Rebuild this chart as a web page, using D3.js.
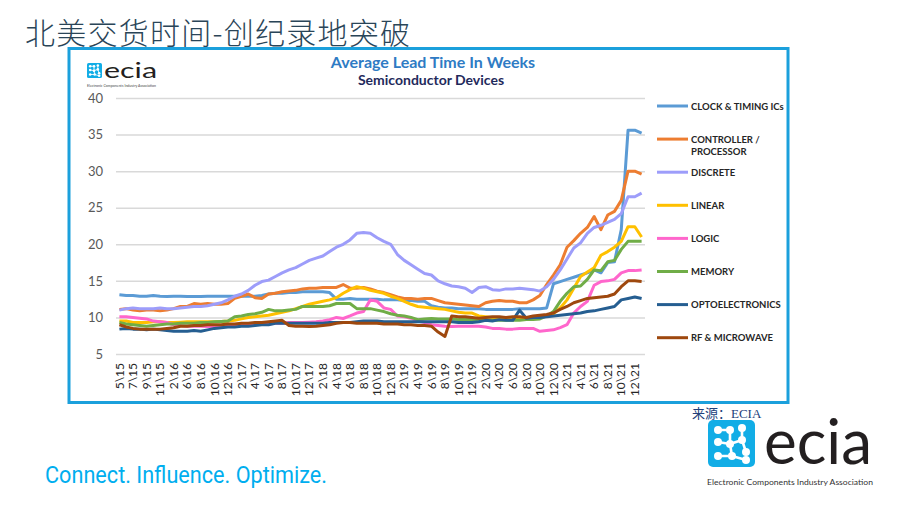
<!DOCTYPE html>
<html>
<head>
<meta charset="utf-8">
<script src="https://cdn.jsdelivr.net/npm/d3@7"></script>
<style>
  body { margin: 0; background: #fff; }
  svg { display: block; }
</style>
</head>
<body>
<div id="chart"></div>
<script>
// categories (month\year), one label shown every 2nd month
const months = ["5\\15","6\\15","7\\15","8\\15","9\\15","10\\15","11\\15","12\\15","2\\16","4\\16",
  "6\\16","7\\16","8\\16","9\\16","10\\16","11\\16","12\\16","1\\17","2\\17","3\\17",
  "4\\17","5\\17","6\\17","7\\17","8\\17","9\\17","10\\17","11\\17","12\\17","1\\18",
  "2\\18","3\\18","4\\18","5\\18","6\\18","7\\18","8\\18","9\\18","10\\18","11\\18",
  "12\\18","1\\19","2\\19","3\\19","4\\19","5\\19","6\\19","7\\19","8\\19","9\\19",
  "10\\19","11\\19","12\\19","1\\20","2\\20","3\\20","4\\20","5\\20","6\\20","7\\20",
  "8\\20","9\\20","10\\20","11\\20","12\\20","1\\21","2\\21","3\\21","4\\21","5\\21",
  "6\\21","7\\21","8\\21","9\\21","10\\21","11\\21","12\\21","1\\22"];

const clockTiming = [13.1,13.0,13.0,12.9,12.9,13.0,12.9,12.85,12.9,12.9,
  12.85,12.85,12.85,12.9,12.9,12.9,12.9,12.9,12.9,12.9,
  12.9,13.0,13.2,13.3,13.3,13.4,13.4,13.5,13.5,13.5,
  13.5,13.4,12.5,12.5,12.6,12.5,12.5,12.5,12.5,12.4,
  12.4,12.4,12.3,12.3,12.2,12.2,11.6,11.4,11.3,11.3,
  11.2,11.2,11.2,11.2,11.1,11.1,11.1,11.1,11.1,11.2,
  11.2,11.2,11.2,11.3,14.6,14.9,15.2,15.5,15.8,16.1,
  16.5,16.1,17.5,17.6,22.0,35.6,35.6,35.2];

const controller = [11.1,11.2,11.0,10.9,11.0,11.0,10.9,11.0,11.2,11.5,
  11.5,11.9,11.8,11.9,11.8,11.8,11.9,12.6,12.9,13.2,
  12.7,12.6,13.2,13.3,13.5,13.6,13.7,13.9,14.0,14.0,
  14.1,14.1,14.1,14.5,14.0,14.0,14.1,13.9,13.6,13.4,
  13.1,12.8,12.6,12.6,12.5,12.6,12.6,12.3,12.0,11.9,
  11.8,11.7,11.6,11.5,12.0,12.2,12.3,12.2,12.2,12.0,
  12.0,12.4,13.0,14.5,15.8,17.2,19.6,20.5,21.5,22.3,
  23.8,22.0,24.0,24.5,26.0,30.0,30.0,29.6];

const discrete = [11.0,11.2,11.3,11.2,11.2,11.2,11.3,11.2,11.2,11.3,
  11.4,11.5,11.5,11.6,11.8,12.0,12.4,12.9,13.2,13.7,
  14.4,14.9,15.1,15.6,16.1,16.5,16.8,17.3,17.8,18.1,
  18.4,19.0,19.6,20.0,20.6,21.5,21.6,21.5,20.9,20.4,
  20.0,18.6,17.8,17.2,16.6,16.0,15.8,15.0,14.6,14.3,
  14.2,14.0,13.4,14.1,14.2,13.8,13.7,13.9,13.9,14.0,
  13.9,13.8,13.6,14.2,15.2,16.5,18.0,19.5,20.2,21.5,
  22.3,22.6,23.0,23.4,24.2,26.5,26.5,27.0];

const linear = [9.5,9.5,9.3,9.3,9.3,9.4,9.4,9.3,9.3,9.35,
  9.4,9.4,9.4,9.4,9.4,9.45,9.5,9.6,9.8,10.0,
  10.1,10.2,10.3,10.5,10.7,10.9,11.2,11.5,11.8,12.0,
  12.2,12.4,12.7,13.3,13.8,14.2,14.0,13.7,13.5,13.3,
  12.9,12.6,12.2,11.8,11.5,11.4,11.3,11.2,11.1,10.9,
  10.7,10.6,10.6,10.2,10.1,10.0,10.0,9.9,9.9,9.8,
  9.9,9.9,10.0,10.2,10.5,11.3,12.4,14.0,15.6,16.2,
  16.8,18.5,19.0,19.6,20.4,22.4,22.4,21.0];

const logic = [10.1,10.1,10.0,9.9,9.8,9.5,9.4,9.3,9.0,8.9,
  8.8,8.8,8.8,8.75,8.75,8.8,8.8,8.9,8.9,9.0,
  9.0,9.1,9.1,9.2,9.2,9.3,9.3,9.3,9.35,9.4,
  9.5,9.7,10.0,9.85,10.2,10.6,10.8,12.4,12.2,11.3,
  11.1,10.2,10.1,9.9,9.5,9.3,9.0,8.9,8.8,8.75,
  8.8,8.8,8.8,8.8,8.7,8.5,8.5,8.4,8.4,8.5,
  8.5,8.5,8.1,8.2,8.3,8.6,9.0,10.6,11.5,12.2,
  14.4,14.9,15.0,15.2,16.1,16.4,16.4,16.5];

const memory = [9.3,9.1,9.0,8.9,8.8,8.9,9.0,9.1,9.1,9.2,
  9.2,9.2,9.3,9.3,9.4,9.45,9.5,10.1,10.2,10.4,
  10.5,10.7,11.1,10.9,10.9,11.0,11.1,11.5,11.5,11.5,
  11.5,11.6,11.9,11.9,11.9,11.2,11.2,11.2,11.0,10.8,
  10.5,10.3,10.2,10.0,9.7,9.8,9.85,9.8,9.8,9.8,
  9.7,9.7,9.7,9.7,9.7,9.6,9.6,9.6,9.6,9.6,
  9.7,9.7,9.8,10.2,10.8,12.2,13.3,14.2,14.3,15.2,
  16.5,16.4,17.6,17.8,19.3,20.4,20.4,20.4];

const opto = [8.4,8.5,8.4,8.4,8.3,8.4,8.3,8.2,8.1,8.1,
  8.1,8.2,8.1,8.3,8.5,8.6,8.7,8.7,8.8,8.8,
  8.9,9.0,9.0,9.2,9.2,9.2,9.2,9.2,9.2,9.2,
  9.2,9.3,9.3,9.3,9.3,9.4,9.5,9.5,9.5,9.4,
  9.4,9.4,9.4,9.4,9.4,9.4,9.4,9.4,9.4,9.4,
  9.3,9.3,9.3,9.4,9.6,9.5,9.7,9.6,9.6,11.0,
  9.9,10.0,10.0,10.1,10.2,10.3,10.4,10.5,10.6,10.8,
  10.9,11.1,11.3,11.5,12.4,12.6,12.8,12.6];

const rfMicrowave = [9.0,8.7,8.5,8.4,8.4,8.4,8.4,8.5,8.6,8.8,
  8.8,8.9,8.9,9.0,9.0,9.0,9.1,9.1,9.2,9.2,
  9.3,9.3,9.4,9.5,9.6,8.9,8.8,8.8,8.75,8.8,
  8.9,9.0,9.2,9.3,9.3,9.2,9.2,9.2,9.2,9.1,
  9.1,9.1,9.0,9.0,8.9,8.9,8.8,8.0,7.4,10.2,
  10.1,10.1,10.0,9.9,10.0,10.1,10.1,10.0,10.1,10.1,
  10.0,10.2,10.3,10.4,10.6,11.1,11.5,12.0,12.3,12.6,
  12.7,12.8,12.9,13.2,14.2,15.0,15.0,14.9];

const seriesNames = ["CLOCK & TIMING ICs", "CONTROLLER / PROCESSOR", "DISCRETE", "LINEAR",
  "LOGIC", "MEMORY", "OPTOELECTRONICS", "RF & MICROWAVE"];
const seriesValues = [clockTiming, controller, discrete, linear, logic, memory, opto, rfMicrowave];
const seriesColors = ["#5b9bd5", "#ed7d31", "#9d9dfa", "#ffc000", "#ff66cc", "#70ad47", "#255e91", "#9e480e"];
const yTicks = [5, 10, 15, 20, 25, 30, 35, 40];

const W = 920, H = 518;
const plot = { left: 116, right: 645, top: 98, bottom: 354 };

const svg = d3.select("#chart").append("svg")
  .attr("width", W)
  .attr("height", H);

// page title
svg.append("text")
  .attr("x", 25).attr("y", 44)
  .attr("font-family", "'Noto Sans CJK SC', sans-serif")
  .attr("font-size", 30)
  .attr("font-weight", 300)
  .attr("fill", "#2a4558")
  .attr("textLength", 385)
  .attr("lengthAdjust", "spacing")
  .text("北美交货时间-创纪录地突破");

// blue frame
svg.append("rect")
  .attr("x", 69).attr("y", 48.5)
  .attr("width", 719).attr("height", 354)
  .attr("fill", "#fff")
  .attr("stroke", "#1ba0dc")
  .attr("stroke-width", 3);

// ecia logo mark
function drawLogo(g, size) {
  const s = size / 47;
  g.append("rect").attr("width", size).attr("height", size)
    .attr("rx", 5 * s).attr("fill", "#12ade6");
  const dots = [[10,10],[22,10],[34,8],[10,22],[22,24],[34,20],[38,32],[10,36],[24,36],[38,40]];
  const links = [[0,1],[1,4],[4,5],[5,6],[3,4],[4,8],[7,8],[2,5],[8,9]];
  links.forEach(l => {
    g.append("line")
      .attr("x1", dots[l[0]][0] * s).attr("y1", dots[l[0]][1] * s)
      .attr("x2", dots[l[1]][0] * s).attr("y2", dots[l[1]][1] * s)
      .attr("stroke", "#fff").attr("stroke-width", 2.6 * s)
      .attr("stroke-linecap", "round");
  });
  dots.forEach(d => {
    g.append("circle").attr("cx", d[0] * s).attr("cy", d[1] * s)
      .attr("r", 4 * s).attr("fill", "#fff");
  });
}

const smallLogo = svg.append("g").attr("transform", "translate(87,63)");
drawLogo(smallLogo, 15);
svg.append("text").attr("x", 104).attr("y", 78)
  .attr("font-family", "Lato, sans-serif").attr("font-size", 21)
  .attr("fill", "#231f20").attr("textLength", 53).attr("lengthAdjust", "spacingAndGlyphs")
  .text("ecia");
svg.append("text").attr("x", 87).attr("y", 86.5)
  .attr("font-family", "Lato, sans-serif").attr("font-size", 3.5)
  .attr("fill", "#444").attr("textLength", 69)
  .text("Electronic Components Industry Association");

const bigLogo = svg.append("g").attr("transform", "translate(708,420)");
drawLogo(bigLogo, 47);
svg.append("text").attr("x", 764).attr("y", 464)
  .attr("font-family", "Lato, sans-serif").attr("font-size", 62)
  .attr("fill", "#231f20").attr("textLength", 108).attr("lengthAdjust", "spacingAndGlyphs")
  .text("ecia");
svg.append("text").attr("x", 707).attr("y", 485)
  .attr("font-family", "Lato, sans-serif").attr("font-size", 8)
  .attr("fill", "#333").attr("textLength", 166).attr("lengthAdjust", "spacingAndGlyphs")
  .text("Electronic Components Industry Association");

svg.append("text").attr("x", 692).attr("y", 418)
  .attr("font-family", "'Liberation Serif', 'Noto Sans CJK SC', serif").attr("font-size", 13)
  .attr("fill", "#22407a")
  .text("来源：ECIA");

svg.append("text").attr("x", 45).attr("y", 483)
  .attr("font-family", "Roboto, sans-serif").attr("font-size", 24)
  .attr("fill", "#00aeef").attr("textLength", 282).attr("lengthAdjust", "spacingAndGlyphs")
  .text("Connect. Influence. Optimize.");

// chart titles
svg.append("text").attr("x", 433).attr("y", 68)
  .attr("text-anchor", "middle")
  .attr("font-family", "Lato, sans-serif").attr("font-weight", "bold").attr("font-size", 16)
  .attr("fill", "#2e7bc4")
  .text("Average Lead Time In Weeks");
svg.append("text").attr("x", 431).attr("y", 85)
  .attr("text-anchor", "middle")
  .attr("font-family", "Lato, sans-serif").attr("font-weight", "bold").attr("font-size", 14)
  .attr("fill", "#1f2a5c")
  .text("Semiconductor Devices");

// scales
const x = d3.scaleBand().domain(months).range([plot.left, plot.right]);
const y = d3.scaleLinear().domain([5, 40]).range([plot.bottom, plot.top]);

// y axis + gridlines
const yAxis = svg.append("g")
  .attr("transform", `translate(${plot.left},0)`)
  .call(d3.axisLeft(y).tickValues(yTicks)
    .tickSizeInner(-(plot.right - plot.left)).tickSizeOuter(0).tickPadding(13));
yAxis.select(".domain").remove();
yAxis.selectAll(".tick line").attr("stroke", "#d9d9d9").attr("stroke-width", 1.5);
yAxis.selectAll(".tick text")
  .attr("font-family", "Lato, sans-serif").attr("font-size", 13).attr("fill", "#595959");

// x axis labels
const xAxis = svg.append("g")
  .attr("transform", `translate(0,${plot.bottom})`)
  .call(d3.axisBottom(x).tickValues(months.filter((d, i) => i % 2 === 0)).tickSize(0));
xAxis.select(".domain").remove();
xAxis.selectAll(".tick text")
  .attr("transform", "rotate(-90)")
  .attr("text-anchor", "end")
  .attr("x", -9).attr("y", 0).attr("dy", "0.35em")
  .attr("font-family", "Lato, sans-serif").attr("font-size", 12).attr("fill", "#262626");

// series lines
const line = d3.line()
  .x((d, i) => x(months[i]) + x.bandwidth() / 2)
  .y(d => y(d));

svg.append("g").selectAll("path")
  .data(seriesValues)
  .join("path")
  .attr("d", line)
  .attr("fill", "none")
  .attr("stroke", (d, i) => seriesColors[i])
  .attr("stroke-width", 3)
  .attr("stroke-linejoin", "round");

// legend
const legend = svg.append("g").selectAll("g")
  .data(seriesNames)
  .join("g")
  .attr("transform", (d, i) => `translate(657,${106 + i * 33.1})`);
legend.append("line")
  .attr("x1", 0).attr("x2", 31)
  .attr("stroke", (d, i) => seriesColors[i])
  .attr("stroke-width", 3);
legend.append("text")
  .attr("x", 34).attr("y", 3.5)
  .attr("font-family", "Lato, sans-serif").attr("font-weight", "bold").attr("font-size", 9.5)
  .attr("fill", "#262626")
  .each(function (d) {
    const parts = d.split(" / ");
    const t = d3.select(this);
    if (parts.length > 1) {
      t.append("tspan").attr("x", 34).text(parts[0] + " /");
      t.append("tspan").attr("x", 34).attr("dy", 12).text(parts[1]);
    } else {
      t.text(d);
    }
  });
</script>
</body>
</html>
